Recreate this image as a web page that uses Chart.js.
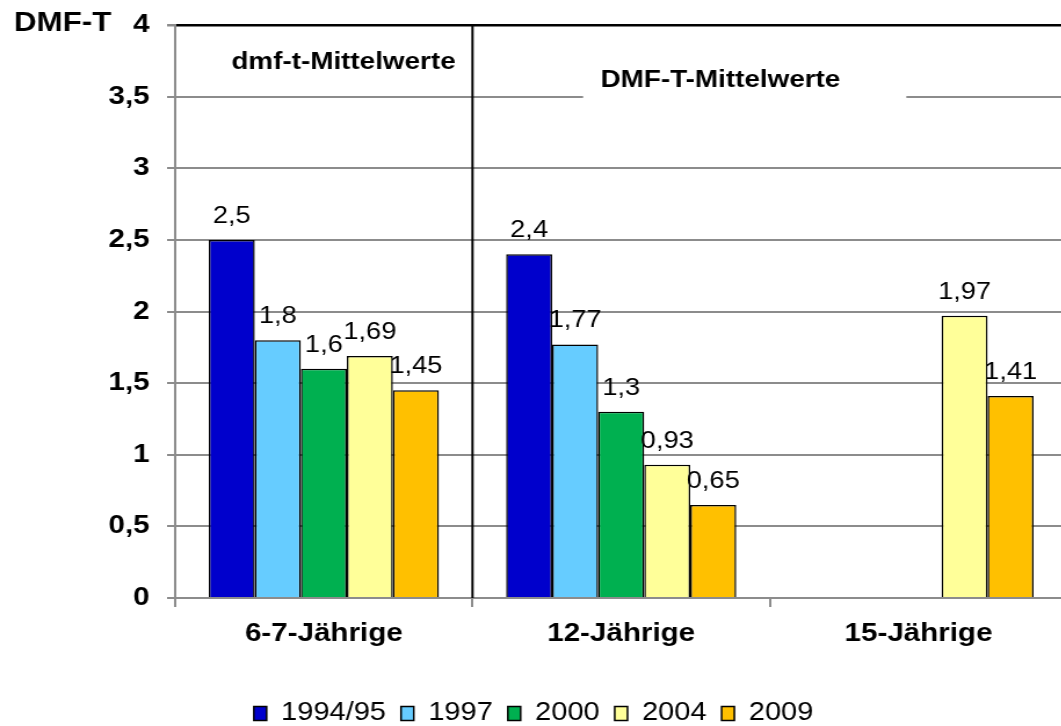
<!DOCTYPE html>
<html>
<head>
<meta charset="utf-8">
<title>DMF-T Mittelwerte</title>
<script src="https://cdn.jsdelivr.net/npm/chart.js@4"></script>
<style>
  html, body { margin: 0; padding: 0; background: #fff; overflow: hidden; }
  #wrap { width: 1061px; height: 726px; overflow: hidden; }
  /* the reference is a little stretched horizontally */
  #chart { transform: scaleX(1.16); transform-origin: 0 0; }
</style>
</head>
<body>
<div id="wrap"><canvas id="chart" width="920" height="736"></canvas></div>
<script>
const FONT = "'Liberation Sans', Arial, sans-serif";

const categories = ['6-7-Jährige', '12-Jährige', '15-Jährige'];
const seriesNames = ['1994/95', '1997', '2000', '2004', '2009'];
const values1994 = [2.5, 2.4, null];
const values1997 = [1.8, 1.77, null];
const values2000 = [1.6, 1.3, null];
const values2004 = [1.69, 0.93, 1.97];
const values2009 = [1.45, 0.65, 1.41];
const seriesColors = ['#0000CC', '#66CCFF', '#00B050', '#FFFF99', '#FFC000'];
const yTickLabels = ['0', '0,5', '1', '1,5', '2', '2,5', '3', '3,5', '4'];

const allValues = [values1994, values1997, values2000, values2004, values2009];

const GRID = '#8c8c8c';

// value labels above each bar, German decimal comma
const valueLabels = {
    id: 'valueLabels',
    afterDatasetsDraw(chart) {
        const ctx = chart.ctx;
        ctx.save();
        ctx.font = `23.5px ${FONT}`;
        ctx.fillStyle = '#000';
        ctx.textAlign = 'center';
        ctx.textBaseline = 'alphabetic';
        chart.data.datasets.forEach((ds, i) => {
            chart.getDatasetMeta(i).data.forEach((bar, j) => {
                const v = ds.data[j];
                if (v == null) return;
                ctx.fillText(String(v).replace('.', ','), bar.x, bar.y - 17);
            });
        });
        ctx.restore();
    }
};

// panel captions, separator line and the axis title
const panelNotes = {
    id: 'panelNotes',
    beforeDatasetsDraw(chart) {
        const { ctx, scales: { x, y } } = chart;
        const cw = x.getPixelForValue(1) - x.getPixelForValue(0);
        const ux = u => x.getPixelForValue(0) + u * cw;
        ctx.save();
        ctx.fillStyle = '#fff';
        const top = y.getPixelForValue(3.755), bot = y.getPixelForValue(3.47);
        ctx.fillRect(ux(0.872), top, ux(1.959) - ux(0.872), bot - top);
        ctx.fillStyle = '#000';
        ctx.font = `bold 24px ${FONT}`;
        ctx.textAlign = 'center';
        ctx.textBaseline = 'middle';
        ctx.fillText('dmf-t-Mittelwerte', ux(0.066), y.getPixelForValue(3.74));
        ctx.fillText('DMF-T-Mittelwerte', ux(1.334), y.getPixelForValue(3.615));
        ctx.restore();
    },
    afterDatasetsDraw(chart) {
        const { ctx, chartArea, scales: { x } } = chart;
        const sep = (x.getPixelForValue(0) + x.getPixelForValue(1)) / 2;
        ctx.save();
        ctx.strokeStyle = '#000';
        ctx.lineWidth = 2;
        ctx.beginPath();
        ctx.moveTo(sep, chartArea.top);
        ctx.lineTo(sep, chartArea.bottom);
        ctx.stroke();
        ctx.restore();
    },
    afterDraw(chart) {
        const ctx = chart.ctx;
        ctx.save();
        ctx.font = `bold 27px ${FONT}`;
        ctx.fillStyle = '#000';
        ctx.textAlign = 'left';
        ctx.textBaseline = 'middle';
        ctx.fillText('DMF-T', 12, 24);
        ctx.restore();
    }
};

new Chart(document.getElementById('chart'), {
    type: 'bar',
    data: {
        labels: categories,
        datasets: seriesNames.map((name, i) => ({
            label: name,
            data: allValues[i],
            backgroundColor: seriesColors[i],
            borderColor: '#000',
            borderWidth: 1.5,
            categoryPercentage: 0.774,
            barPercentage: 1
        }))
    },
    options: {
        responsive: false,
        animation: false,
        layout: { padding: { top: 25, right: 0, bottom: 0, left: 0 } },
        plugins: {
            legend: {
                position: 'bottom',
                labels: {
                    boxWidth: 11,
                    boxHeight: 14,
                    padding: 13,
                    color: '#000',
                    font: { family: FONT, size: 25 }
                }
            },
            tooltip: { enabled: false }
        },
        scales: {
            x: {
                grid: { offset: true, drawOnChartArea: false, drawTicks: true, tickLength: 9, color: GRID, lineWidth: 2 },
                border: { color: GRID, width: 2 },
                ticks: { padding: 12, color: '#000', font: { family: FONT, size: 25.5, weight: 'bold' } },
                afterFit: s => { s.height = 90; }
            },
            y: {
                min: 0,
                max: 4,
                ticks: {
                    stepSize: 0.5,
                    padding: 15,
                    color: '#000',
                    font: { family: FONT, size: 25.5, weight: 'bold' },
                    callback: (v, i) => yTickLabels[i]
                },
                grid: {
                    color: c => c.tick && c.tick.value === 4 ? '#000' : GRID,
                    lineWidth: c => c.tick && c.tick.value === 4 ? 2.5 : 2,
                    tickColor: GRID,
                    tickLength: 7
                },
                border: { color: GRID, width: 2 },
                afterFit: s => { s.width = 151; s.paddingTop = 0; s.paddingBottom = 0; }
            }
        }
    },
    plugins: [valueLabels, panelNotes]
});
</script>
</body>
</html>
